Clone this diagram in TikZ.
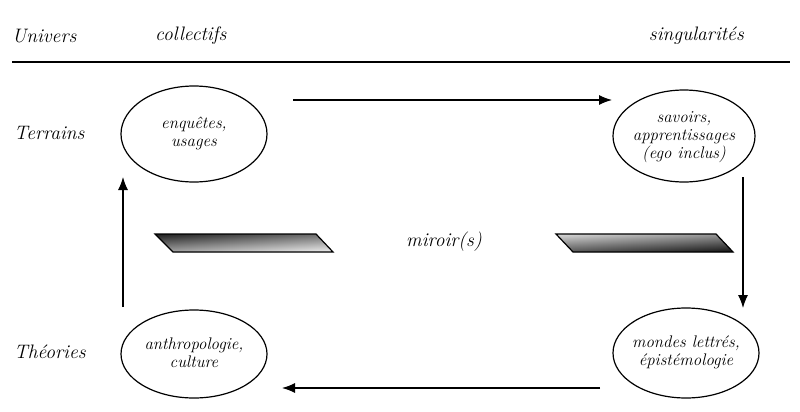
\documentclass[tikz,border=0pt]{standalone}
\usetikzlibrary{arrows.meta}
\begin{document}
\begin{tikzpicture}[x=1pt,y=-1pt,
  lab/.style={font=\fontsize{19.5}{22}\selectfont\itshape, inner sep=0pt},
  etext/.style={font=\fontsize{16.8}{18}\selectfont\itshape, align=center, inner sep=0pt},
  arr/.style={line width=1.1pt, -{Latex[length=13pt,width=10pt]}}
]
\useasboundingbox (0,0) rectangle (800,412);
% header
\node[lab, anchor=west] (univ) at (12,36) {Univers};
\node[lab, anchor=west] (coll) at (155,36) {collectifs};
\node[lab, anchor=east] (sing) at (744,36) {singularités};
\draw[line width=1.8pt] (12,62) -- (790,62);
\node[lab, anchor=west] (terr) at (14,133) {Terrains};
\node[lab, anchor=west] (theo) at (14,352) {Théories};
% ellipses
\draw[line width=1.2pt] (194,134) ellipse [x radius=73, y radius=48];
\node[etext] (e1) at (194,133) {enquêtes,\\usages};
\draw[line width=1.2pt] (684,136) ellipse [x radius=71, y radius=46];
\node[etext] (e2) at (684,137) {savoirs,\\apprentissages\\(ego inclus)};
\draw[line width=1.2pt] (194,354) ellipse [x radius=73, y radius=44];
\node[etext] (e3) at (194,353) {anthropologie,\\culture};
\draw[line width=1.2pt] (686,353) ellipse [x radius=73, y radius=45];
\node[etext] (e4) at (686,352) {mondes lettrés,\\épistémologie};
% arrow ends
\coordinate (a1s) at (293,100); \coordinate (a1e) at (612,100);
\coordinate (a2s) at (743,177); \coordinate (a2e) at (743,308);
\coordinate (a3s) at (600,388); \coordinate (a3e) at (282,388);
\coordinate (a4s) at (123,307); \coordinate (a4e) at (123,177);
\draw[arr] (a1s) -- (a1e);
\draw[arr] (a2s) -- (a2e);
\draw[arr] (a3s) -- (a3e);
\draw[arr] (a4s) -- (a4e);
% mirrors
\shade[left color=black!75, right color=black!10] (155,234) -- (316,234) -- (333,252) -- (173,252) -- cycle;
\shade[top color=black, bottom color=white, fill opacity=0.5] (155,234) -- (316,234) -- (333,252) -- (173,252) -- cycle;
\draw[line width=1.2pt] (155,234) -- (316,234) -- (333,252) -- (173,252) -- cycle;
\shade[left color=black!30, right color=black!85] (556,234) -- (716,234) -- (733,252) -- (573,252) -- cycle;
\shade[top color=white, bottom color=black, fill opacity=0.5] (556,234) -- (716,234) -- (733,252) -- (573,252) -- cycle;
\draw[line width=1.2pt] (556,234) -- (716,234) -- (733,252) -- (573,252) -- cycle;
\node[lab] (mir) at (444,242) {miroir(s)};
\end{tikzpicture}
\end{document}
